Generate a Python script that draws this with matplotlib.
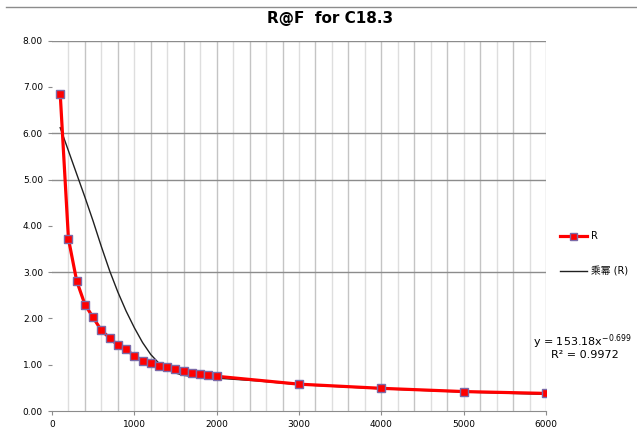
import matplotlib.pyplot as plt
from matplotlib.lines import Line2D
import numpy as np

plt.rcParams['font.family'] = ['DejaVu Sans', 'Noto Sans CJK SC']

# data
x_r = [100, 200, 300, 400, 500, 600, 700, 800, 900, 1000, 1100, 1200, 1300,
       1400, 1500, 1600, 1700, 1800, 1900, 2000, 3000, 4000, 5000, 6000]
y_r = [6.85, 3.72, 2.81, 2.30, 2.02, 1.74, 1.58, 1.42, 1.33, 1.19, 1.09, 1.04,
       0.98, 0.94, 0.91, 0.87, 0.83, 0.80, 0.77, 0.75, 0.58, 0.49, 0.42, 0.38]

# trend line as drawn in the picture
x_t = [100, 200, 300, 400, 500, 600, 700, 800, 900, 1000, 1100, 1200, 1300,
       1400, 1500, 1600, 1800, 2000, 2500, 3000, 4000, 5000, 6000]
y_t = [6.12, 5.62, 5.12, 4.62, 4.10, 3.55, 3.03, 2.57, 2.16, 1.80, 1.48, 1.22,
       1.03, 0.90, 0.82, 0.77, 0.73, 0.71, 0.65, 0.57, 0.48, 0.41, 0.36]

yticks = [0, 1, 2, 3, 4, 5, 6, 7, 8]
xticks = [0, 1000, 2000, 3000, 4000, 5000, 6000]
hgrid = [3, 5, 6, 8]

fig = plt.figure(figsize=(6.37, 4.32), dpi=100)
ax = fig.add_axes([0.0816, 0.0486, 0.7755, 0.8573])

# vertical grid every 200
for i, gx in enumerate(range(200, 6001, 200)):
    ax.axvline(gx, color='#c4c4c4' if i % 2 else '#dedede', lw=1.0, zorder=0)
for gy in hgrid:
    ax.axhline(gy, color='#8c8c8c', lw=1.0, zorder=0)

ax.plot(x_t, y_t, color='#202020', lw=1.0, label='乘幂 (R)', zorder=2)
ax.plot(x_r, y_r, color='#ff0000', lw=2.3, marker='s', markersize=6.3,
        markerfacecolor='#ff0000', markeredgecolor='#7b6aa8',
        markeredgewidth=1.0, label='R', zorder=3)

ax.set_xlim(0, 6000)
ax.set_ylim(0, 8)
ax.set_xticks(xticks)
ax.set_yticks(yticks)
ax.set_yticklabels(['%.2f' % v for v in yticks])
ax.tick_params(labelsize=6.5, colors='#000000', length=3, width=0.8)
ax.tick_params(axis='both', color='#8c8c8c')

for s in ['top', 'right', 'left']:
    ax.spines[s].set_visible(False)
ax.spines['bottom'].set_color('#8c8c8c')

fig.text(0.518, 0.958, 'R@F  for C18.3', ha='center', va='center',
         fontsize=11, fontweight='bold')

# legend outside right
h, l = ax.get_legend_handles_labels()
leg = fig.legend(h[::-1], l[::-1], loc='upper left',
                 bbox_to_anchor=(0.865, 0.485), frameon=False, fontsize=7,
                 handlelength=2.8, labelspacing=2.6, handletextpad=0.4,
                 markerscale=0.8)

fig.text(0.915, 0.208, 'y = 153.18x$^{-0.699}$', ha='center', va='center',
         fontsize=8)
fig.text(0.918, 0.178, 'R² = 0.9972', ha='center', va='center', fontsize=8)

# chart border line at the top
fig.add_artist(Line2D([0.01, 1.0], [0.984, 0.984], color='#8c8c8c', lw=1.0))

fig.savefig('out.png', dpi=100)
